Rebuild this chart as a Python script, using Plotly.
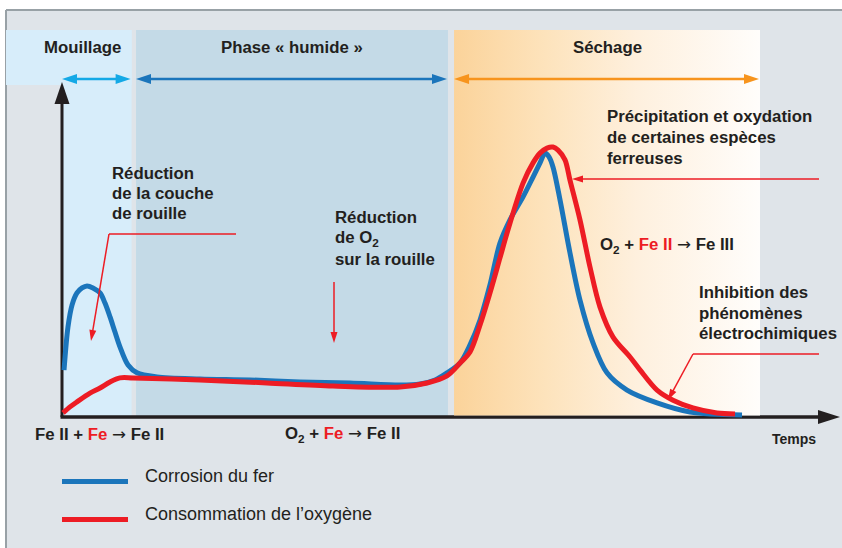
import math
import plotly.graph_objects as go

# ---------------------------------------------------------------------------
# Data: time in % of the time axis, intensity in % of the vertical axis
# ---------------------------------------------------------------------------
fer_t = [0.26, 0.77, 1.29, 1.93, 2.58, 3.22, 3.99, 4.90, 5.54, 6.19, 6.83, 7.47,
         8.51, 9.66, 12.24, 17.78, 24.23, 30.67, 37.11, 43.56, 46.13, 48.07,
         49.61, 51.29, 52.58, 53.87, 55.15, 56.44, 57.73, 59.41, 60.70, 61.60,
         62.24, 62.76, 63.27, 64.18, 65.46, 66.75, 68.43, 70.23, 72.81, 76.68,
         80.93, 87.63]
fer_v = [13.9, 26.7, 33.2, 36.8, 38.3, 38.9, 38.3, 36.8, 33.8, 29.7, 25.2, 20.8,
         15.4, 13.1, 11.9, 11.3, 11.0, 10.4, 10.1, 9.5, 9.8, 11.0,
         13.1, 16.0, 21.4, 28.8, 39.2, 51.6, 58.5, 65.3, 71.2, 75.4,
         78.3, 77.2, 74.2, 64.4, 48.7, 34.7, 22.0, 13.1, 8.0, 4.2,
         1.5, 0.6]

o2_t = [0.13, 1.03, 1.93, 3.61, 4.90, 6.19, 7.47, 9.15, 17.78, 26.42, 34.92,
        43.56, 47.04, 49.61, 51.29, 52.58, 53.87, 55.15, 56.44, 57.35, 59.41,
        60.70, 61.60, 62.50, 63.27, 63.92, 64.82, 65.46, 66.75, 68.04, 69.33,
        71.01, 73.20, 74.48, 76.68, 78.74, 81.31, 84.41, 86.73]
o2_v = [1.2, 3.0, 4.5, 7.1, 8.6, 10.4, 11.6, 11.6, 11.0, 10.1, 9.2,
        8.9, 10.1, 12.2, 16.0, 19.3, 27.3, 36.8, 47.2, 54.6, 69.4,
        75.4, 78.3, 79.8, 80.1, 79.2, 76.3, 70.3, 58.5, 44.5, 32.6,
        23.7, 17.8, 14.0, 8.0, 5.0, 2.7, 1.2, 0.9]

phase_names = ["Mouillage", "Phase « humide »", "Séchage"]
phase_start = [0.0, 9.54, 50.52]
phase_end = [8.97, 49.74, 89.95]

series_names = ["Corrosion du fer", "Consommation de l\u2019oxygène"]

# ---------------------------------------------------------------------------
# Page geometry
# ---------------------------------------------------------------------------
W, H = 842, 548
OX, OY = 62, 417          # axes origin on the page (px)
SX, SY = 7.76, 3.37       # px per unit of time / intensity

BLUE = "#1b75bb"
RED = "#ed1c24"
CYAN = "#14a9e6"
ORANGE = "#f7941d"
INK = "#231f20"
PANEL = "#dfe4e9"
FONT = "Liberation Sans, Arial, sans-serif"
BOLD_SIZE = 16.8

# thin reaction arrow, drawn in a lighter weight than the formula around it
YIELDS = ("</b><span style='font-family:DejaVu Sans;font-weight:normal'>"
          "\u2192</span><b>")


def sx(t):
    return OX + SX * t


def sy(v):
    return OY - SY * v


def P(px, py):
    return px / W, 1 - py / H


shapes = []
annotations = []


def rect(x0, y0, x1, y1, color, layer="below"):
    a, b = P(x0, y0)
    c, d = P(x1, y1)
    shapes.append(dict(type="rect", xref="paper", yref="paper", x0=a, y0=b,
                       x1=c, y1=d, fillcolor=color, line=dict(width=0),
                       layer=layer))


def seg(x0, y0, x1, y1, color, width, layer="below"):
    a, b = P(x0, y0)
    c, d = P(x1, y1)
    shapes.append(dict(type="line", xref="paper", yref="paper", x0=a, y0=b,
                       x1=c, y1=d, line=dict(color=color, width=width),
                       layer=layer))


def head(tx, ty, ux, uy, hl, hw, color, layer):
    bx, by = tx - ux * hl, ty - uy * hl
    nx, ny = -uy, ux
    pts = [(tx, ty), (bx + nx * hw, by + ny * hw), (bx - nx * hw, by - ny * hw)]
    path = "M " + " L ".join("%.6f,%.6f" % P(x, y) for x, y in pts) + " Z"
    shapes.append(dict(type="path", xref="paper", yref="paper", path=path,
                       fillcolor=color, line=dict(width=0), layer=layer))


def arrow(x0, y0, x1, y1, color, width, hl, hw, both=False, layer="above"):
    L = math.hypot(x1 - x0, y1 - y0)
    ux, uy = (x1 - x0) / L, (y1 - y0) / L
    sx0 = x0 + ux * hl * 0.8 if both else x0
    sy0 = y0 + uy * hl * 0.8 if both else y0
    seg(sx0, sy0, x1 - ux * hl * 0.8, y1 - uy * hl * 0.8, color, width, layer)
    head(x1, y1, ux, uy, hl, hw, color, layer)
    if both:
        head(x0, y0, -ux, -uy, hl, hw, color, layer)


def text(px, py, s, size=BOLD_SIZE, bold=True, anchor="left", color=INK):
    x, y = P(px, py)
    annotations.append(dict(xref="paper", yref="paper", x=x, y=y,
                            text="<b>%s</b>" % s if bold else s,
                            showarrow=False, xanchor=anchor, yanchor="middle",
                            align=anchor if anchor != "center" else "center",
                            font=dict(family=FONT, size=size, color=color)))


def red(s):
    return "<span style='color:%s'>%s</span>" % (RED, s)


# ---------------------------------------------------------------------------
# Background panel and phase bands
# ---------------------------------------------------------------------------
rect(6, 10, W + 2, H + 2, PANEL)
seg(6, 10, W + 2, 10, "#98a1a6", 2)
seg(6, 10, 6, H + 2, "#98a1a6", 2)

band_top = 30
rect(6, band_top, sx(phase_end[0]), 85, "#d7edfa")
rect(sx(phase_start[0]), band_top, sx(phase_end[0]), OY, "#d7edfa")
rect(sx(phase_start[1]), band_top, sx(phase_end[1]), OY, "#c4dae7")

# axes
seg(OX, OY, OX, 100, INK, 3)
head(OX, 82, 0, -1, 22, 7.5, INK, "below")
seg(OX - 1.5, OY, 822, OY, INK, 3.5)
head(840, OY, 1, 0, 22, 7, INK, "below")

# phase headers and their double arrows
phase_colors = [CYAN, BLUE, ORANGE]
for name, a, b, col in zip(phase_names, phase_start, phase_end, phase_colors):
    text((sx(a) + sx(b)) / 2 if name != "Mouillage" else 82, 47, name,
         anchor="center")
    arrow(sx(a), 79, sx(b) - 1, 79, col, 2.5, 15, 5, both=True)

# ---------------------------------------------------------------------------
# Traces
# ---------------------------------------------------------------------------
fig = go.Figure()

# drying phase: orange fading to white
vt = (OY - band_top) / SY
vb = 1.5 / SY
fig.add_trace(go.Scatter(
    x=[phase_start[2], phase_end[2], phase_end[2], phase_start[2], phase_start[2]],
    y=[vb, vb, vt, vt, vb], mode="lines", fill="toself",
    line=dict(width=0),
    fillgradient=dict(type="horizontal",
                      colorscale=[[0, "#fbd39a"], [0.3, "#fde3bc"],
                                  [0.6, "#fef0de"], [1, "#fffdfb"]]),
    hoverinfo="skip", showlegend=False))

fig.add_trace(go.Scatter(x=fer_t, y=fer_v, mode="lines", name=series_names[0],
                         line=dict(color=BLUE, width=5, shape="spline",
                                   smoothing=0.9),
                         hoverinfo="skip", showlegend=False))
fig.add_trace(go.Scatter(x=o2_t, y=o2_v, mode="lines", name=series_names[1],
                         line=dict(color=RED, width=5, shape="spline",
                                   smoothing=0.9),
                         hoverinfo="skip", showlegend=False))

# ---------------------------------------------------------------------------
# Annotations
# ---------------------------------------------------------------------------
for i, s in enumerate(["Réduction", "de la couche", "de rouille"]):
    text(110, 173.3 + 20.2 * i, s)
seg(236, 234, 109, 234, RED, 1.5, "above")
arrow(109, 234, 91, 341, RED, 1.5, 11, 3.5)

for i, s in enumerate(["Réduction", "de O<sub>2</sub>", "sur la rouille"]):
    text(333, 217.2 + 21 * i, s)
arrow(334, 282, 334, 343, RED, 1.5, 11, 3.5)

for i, s in enumerate(["Précipitation et oxydation", "de certaines espèces",
                       "ferreuses"]):
    text(605, 116.2 + 21 * i, s)
arrow(819, 179, 572, 179, RED, 1.5, 11, 3.5)

text(598, 244.8, "O<sub>2</sub> + " + red("Fe II") + " " + YIELDS + " Fe III")

for i, s in enumerate(["Inhibition des", "phénomènes", "électrochimiques"]):
    text(697, 292.8 + 20.5 * i, s)
seg(819, 354, 693, 354, RED, 1.5, "above")
arrow(693, 354, 668, 400, RED, 1.5, 11, 3.5)

text(33, 434, "Fe II + " + red("Fe") + " " + YIELDS + " Fe II")
text(283, 434, "O<sub>2</sub> + " + red("Fe") + " " + YIELDS + " Fe II")
text(793.5, 438.7, "Temps", size=14, anchor="center")

# legend
for i, (name, col) in enumerate(zip(series_names, [BLUE, RED])):
    y = 481.5 + 38 * i
    seg(62, y, 128, y, col, 5, "above")
    text(143, y - 6, name, size=18, bold=False)

fig.update_layout(
    width=W, height=H, autosize=False,
    margin=dict(l=0, r=0, t=0, b=0, pad=0),
    paper_bgcolor="white", plot_bgcolor="rgba(0,0,0,0)",
    xaxis=dict(range=[-OX / SX, (W - OX) / SX], visible=False, fixedrange=True),
    yaxis=dict(range=[-(H - OY) / SY, OY / SY], visible=False, fixedrange=True),
    shapes=shapes, annotations=annotations, showlegend=False,
)

fig.write_html("out.html", config={"displayModeBar": False, "staticPlot": True})
